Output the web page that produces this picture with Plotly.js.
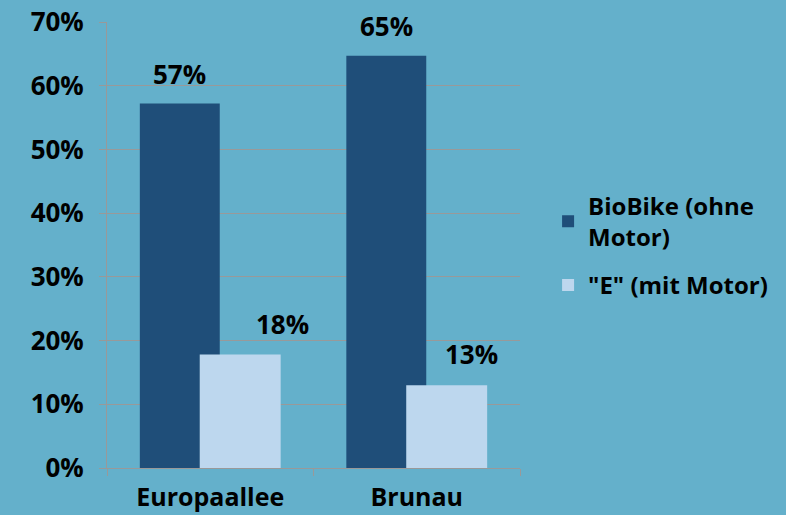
<!DOCTYPE html>
<html>
<head>
<meta charset="utf-8">
<script src="https://cdn.plot.ly/plotly-3.0.1.min.js"></script>
<style>
  body { margin: 0; background: #64B0CB; }
  #chart { width: 786px; height: 515px; }
</style>
</head>
<body>
<div id="chart"></div>
<script>
// chart values
var standorte = ['Europaallee', 'Brunau'];
var ohneMotor = [0.572, 0.647];
var mitMotor = [0.178, 0.130];
var serienNamen = ['BioBike (ohne<br>Motor)', '"E" (mit Motor)'];

var schrift = '"Open Sans", Lato, sans-serif';
var bg = '#64B0CB';

function pct(v) { return Math.round(v * 100) + '%'; }

var data = [
  {
    // dunkle Balken
    x: standorte,
    y: ohneMotor,
    type: 'bar',
    name: serienNamen[0],
    legendgroup: 'a',
    width: 0.387,
    offset: -0.341,
    marker: { color: '#1F4E79' },
    hoverinfo: 'skip'
  }, {
    // helle Balken
    x: standorte,
    y: mitMotor,
    type: 'bar',
    name: serienNamen[1],
    legendgroup: 'b',
    width: 0.392,
    offset: -0.051,
    marker: { color: '#BDD7EE' },
    hoverinfo: 'skip'
  }
];

// data labels, shifted like in the original
var dunkelShift = [0, 0];
var hellShift = [42, 25];
var annotations = [];
standorte.forEach(function (s, i) {
  annotations.push({
    x: s, y: ohneMotor[i], xref: 'x', yref: 'y',
    text: pct(ohneMotor[i]), showarrow: false,
    xshift: -30.5 + dunkelShift[i], yshift: 30,
    font: { family: schrift, size: 26, color: '#000', weight: 'bold' }
  });
  annotations.push({
    x: s, y: mitMotor[i], xref: 'x', yref: 'y',
    text: pct(mitMotor[i]), showarrow: false,
    xshift: 30 + hellShift[i], yshift: 31,
    font: { family: schrift, size: 26, color: '#000', weight: 'bold' }
  });
});

var layout = {
  width: 786,
  height: 515,
  paper_bgcolor: bg,
  plot_bgcolor: bg,
  margin: { l: 107, r: 266, t: 21.5, b: 47 },
  barmode: 'overlay',
  font: { family: schrift, size: 24, color: '#000', weight: 'bold' },
  xaxis: {
    type: 'category',
    showgrid: false,
    showline: true,
    linecolor: '#999',
    linewidth: 1,
    ticks: 'outside',
    tickson: 'boundaries',
    ticklen: 7,
    tickcolor: '#999',
    ticklabelstandoff: 7,
    tickfont: { family: schrift, size: 25, weight: 'bold' }
  },
  yaxis: {
    range: [0, 0.7],
    dtick: 0.1,
    tickformat: '.0%',
    showgrid: true,
    gridcolor: '#999',
    gridwidth: 1,
    showline: true,
    linecolor: '#999',
    ticks: 'outside',
    ticklen: 7,
    tickcolor: '#999',
    zeroline: false,
    ticklabelstandoff: 10,
    tickfont: { family: schrift, size: 26, weight: 'bold' }
  },
  legend: {
    x: 1.068,
    y: 0.638,
    xanchor: 'left',
    yanchor: 'top',
    traceorder: 'grouped',
    tracegroupgap: 14,
    bgcolor: 'rgba(0,0,0,0)',
    font: { family: schrift, size: 24, weight: 'bold' },
    itemclick: false
  },
  annotations: annotations
};

Plotly.newPlot('chart', data, layout, { displayModeBar: false, staticPlot: true });
</script>
</body>
</html>
